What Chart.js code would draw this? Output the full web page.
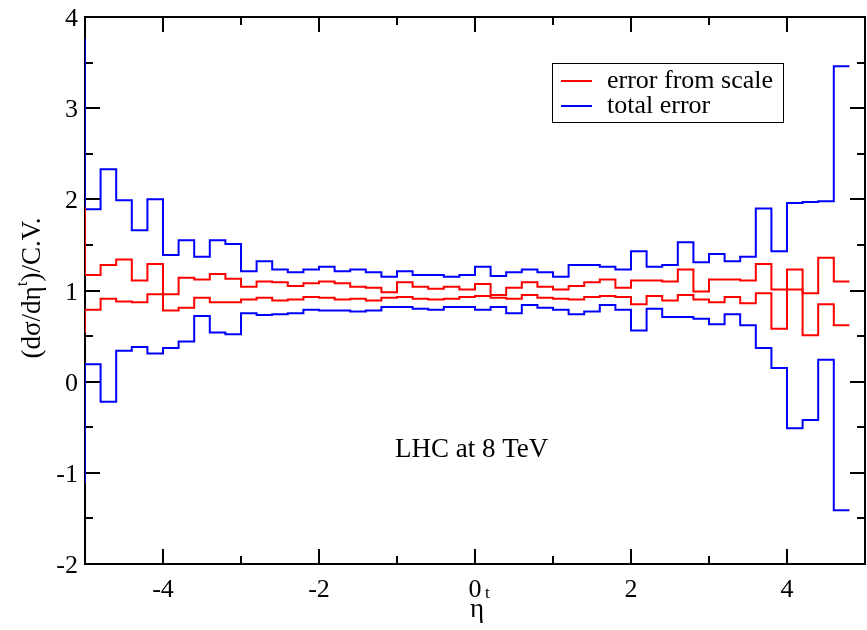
<!DOCTYPE html>
<html>
<head>
<meta charset="utf-8">
<script src="https://cdn.jsdelivr.net/npm/chart.js@4.4.1/dist/chart.umd.min.js"></script>
<style>
  html, body { margin: 0; padding: 0; background: #fff; }
  canvas { display: block; }
</style>
</head>
<body>
<canvas id="etaChart" width="867" height="630"></canvas>
<script>
// left edge of each 0.2 wide eta bin (first bin sits just outside the frame)
const binEdges = [
  -5.2, -5.0, -4.8, -4.6, -4.4, -4.2, -4.0, -3.8, -3.6, -3.4, -3.2,
  -3.0, -2.8, -2.6, -2.4, -2.2, -2.0, -1.8, -1.6, -1.4, -1.2,
  -1.0, -0.8, -0.6, -0.4, -0.2, 0.0, 0.2, 0.4, 0.6, 0.8,
  1.0, 1.2, 1.4, 1.6, 1.8, 2.0, 2.2, 2.4, 2.6, 2.8,
  3.0, 3.2, 3.4, 3.6, 3.8, 4.0, 4.2, 4.4, 4.6, 4.8
];

// total error band (upper / lower edge)
const totalUp = [
  3.75, 1.89, 2.33, 1.99, 1.66, 2.00, 1.39, 1.55, 1.37, 1.55, 1.51,
  1.21, 1.32, 1.23, 1.20, 1.23, 1.26, 1.21, 1.23, 1.20, 1.15,
  1.21, 1.17, 1.17, 1.15, 1.17, 1.26, 1.16, 1.20, 1.23, 1.20,
  1.15, 1.28, 1.28, 1.26, 1.23, 1.43, 1.26, 1.28, 1.53, 1.31,
  1.40, 1.32, 1.37, 1.90, 1.43, 1.96, 1.97, 1.98, 3.46
];
const totalDown = [
  -1.10, 0.19, -0.22, 0.34, 0.38, 0.31, 0.37, 0.44, 0.72, 0.54, 0.52,
  0.75, 0.73, 0.74, 0.75, 0.79, 0.78, 0.78, 0.77, 0.78, 0.82,
  0.82, 0.80, 0.79, 0.82, 0.82, 0.79, 0.82, 0.75, 0.84, 0.81,
  0.79, 0.74, 0.77, 0.84, 0.79, 0.56, 0.80, 0.71, 0.71, 0.69,
  0.63, 0.74, 0.62, 0.37, 0.15, -0.51, -0.42, 0.24, -1.41
];

// scale variation (the two curves cross a few times)
const scaleA = [
  1.90, 1.17, 1.28, 1.34, 1.11, 1.29, 0.78, 0.81, 0.92, 0.87, 0.87,
  0.90, 0.92, 0.89, 0.90, 0.93, 0.92, 0.90, 0.91, 0.89, 0.92,
  0.93, 0.91, 0.90, 0.91, 0.93, 0.94, 0.92, 0.91, 0.95, 0.92,
  0.91, 0.90, 0.93, 0.94, 0.93, 0.85, 0.94, 0.89, 0.95, 0.90,
  0.87, 0.93, 0.86, 0.97, 0.58, 1.23, 0.97, 1.36, 1.10
];
const scaleB = [
  0.55, 0.79, 0.91, 0.88, 0.87, 0.96, 0.96, 1.14, 1.12, 1.18, 1.13,
  1.04, 1.10, 1.09, 1.05, 1.08, 1.10, 1.08, 1.04, 1.03, 0.98,
  1.09, 1.04, 1.02, 1.04, 1.01, 1.07, 0.95, 1.03, 1.09, 1.04,
  1.01, 1.05, 1.09, 1.12, 1.03, 1.11, 1.11, 1.10, 1.23, 0.99,
  1.12, 1.12, 1.11, 1.29, 1.01, 1.01, 0.51, 0.85, 0.62
];

const xLabels = [-4, -2, 0, 2, 4];
const yLabels = [-2, -1, 0, 1, 2, 3, 4];
const legendNames = ["error from scale", "total error"];
const note = "LHC at 8 TeV";

const RED = "#ff0000";
const BLUE = "#0000ff";
const SERIF = "'Liberation Serif', 'Times New Roman', serif";

// step points: value of bin i starts at its left edge, last value closes at the right edge
function steps(vals) {
  const pts = vals.map((v, i) => ({ x: binEdges[i], y: v }));
  pts.push({ x: binEdges[vals.length], y: vals[vals.length - 1] });
  return pts;
}

function line(label, vals, color) {
  return {
    label: label,
    data: steps(vals),
    borderColor: color,
    backgroundColor: color,
    borderWidth: 2,
    pointRadius: 0,
    stepped: true,
    fill: false,
    clip: { left: 0, top: 2, right: 2, bottom: 2 },
  };
}

// frame with inward ticks on all four sides, tick labels and the texts
const frameTicks = {
  id: "frameTicks",
  beforeDatasetsDraw(chart) {
    const { ctx, chartArea: a, scales } = chart;
    const x = scales.x, y = scales.y;
    ctx.save();
    ctx.strokeStyle = "#000";
    ctx.lineWidth = 2;
    ctx.beginPath();
    x.ticks.forEach((t) => {
      const px = Math.round(x.getPixelForValue(t.value));
      const len = xLabels.includes(t.value) ? 15 : 8;
      ctx.moveTo(px, a.bottom);
      ctx.lineTo(px, a.bottom - len);
      ctx.moveTo(px, a.top);
      ctx.lineTo(px, a.top + len);
    });
    y.ticks.forEach((t) => {
      const py = Math.round(y.getPixelForValue(t.value));
      const len = Number.isInteger(t.value) ? 15 : 8;
      ctx.moveTo(a.left, py);
      ctx.lineTo(a.left + len, py);
      ctx.moveTo(a.right, py);
      ctx.lineTo(a.right - len, py);
    });
    ctx.stroke();
    ctx.strokeRect(a.left, a.top, a.right - a.left, a.bottom - a.top);

    // tick labels
    ctx.fillStyle = "#000";
    ctx.font = "26px " + SERIF;
    ctx.textAlign = "center";
    ctx.textBaseline = "alphabetic";
    x.ticks.forEach((t) => {
      if (!xLabels.includes(t.value)) return;
      ctx.fillText(String(t.value), x.getPixelForValue(t.value), 597);
    });
    ctx.textAlign = "right";
    y.ticks.forEach((t) => {
      if (!yLabels.includes(t.value)) return;
      ctx.fillText(String(t.value), 78, y.getPixelForValue(t.value) + 9);
    });
    ctx.restore();
  },
  afterDraw(chart) {
    const ctx = chart.ctx;
    ctx.save();
    ctx.fillStyle = "#000";
    ctx.textBaseline = "alphabetic";
    ctx.textAlign = "left";

    // legend box
    ctx.lineWidth = 1;
    ctx.strokeStyle = "#000";
    ctx.strokeRect(552.5, 63.5, 231, 59);
    const rows = [
      { name: legendNames[0], color: RED, y: 81 },
      { name: legendNames[1], color: BLUE, y: 106 },
    ];
    ctx.font = "26px " + SERIF;
    rows.forEach((r) => {
      ctx.strokeStyle = r.color;
      ctx.lineWidth = 2;
      ctx.beginPath();
      ctx.moveTo(561, r.y);
      ctx.lineTo(592, r.y);
      ctx.stroke();
      ctx.fillText(r.name, 607, r.y + 7);
    });

    // annotation
    ctx.font = "27px " + SERIF;
    ctx.fillText(note, 395, 457);

    // x title: eta^t
    ctx.font = "27px " + SERIF;
    ctx.fillText("\u03b7", 470, 617);
    ctx.font = "17px " + SERIF;
    ctx.fillText("t", 485, 598);

    // y title: (dsigma/deta^t)/C.V. rotated
    ctx.translate(40, 288);
    ctx.rotate(-Math.PI / 2);
    const big = "27px " + SERIF, small = "17px " + SERIF;
    const p1 = "(d\u03c3/d\u03b7", p2 = "t", p3 = ")/C.V.";
    ctx.font = big;
    const w1 = ctx.measureText(p1).width, w3 = ctx.measureText(p3).width;
    ctx.font = small;
    const w2 = ctx.measureText(p2).width;
    let cx = -(w1 + w2 + w3) / 2;
    ctx.font = big;
    ctx.fillText(p1, cx, 0);
    cx += w1;
    ctx.font = small;
    ctx.fillText(p2, cx, -13);
    cx += w2;
    ctx.font = big;
    ctx.fillText(p3, cx, 0);
    ctx.restore();
  },
};

const ctx = document.getElementById("etaChart").getContext("2d");
new Chart(ctx, {
  type: "line",
  data: {
    datasets: [
      line(legendNames[0], scaleA, RED),
      line(legendNames[0], scaleB, RED),
      line(legendNames[1], totalUp, BLUE),
      line(legendNames[1], totalDown, BLUE),
    ],
  },
  options: {
    responsive: false,
    animation: false,
    events: [],
    layout: { padding: { left: 0, top: 17, right: 2, bottom: 0 } },
    plugins: { legend: { display: false }, tooltip: { enabled: false } },
    scales: {
      x: {
        type: "linear",
        min: -5,
        max: 5,
        grid: { display: false, drawTicks: false },
        border: { display: false },
        ticks: { stepSize: 1, display: false },
        afterFit: (s) => { s.height = 66; },
      },
      y: {
        type: "linear",
        min: -2,
        max: 4,
        grid: { display: false, drawTicks: false },
        border: { display: false },
        ticks: { stepSize: 0.5, display: false },
        afterFit: (s) => { s.width = 85; },
      },
    },
  },
  plugins: [frameTicks],
});
</script>
</body>
</html>
